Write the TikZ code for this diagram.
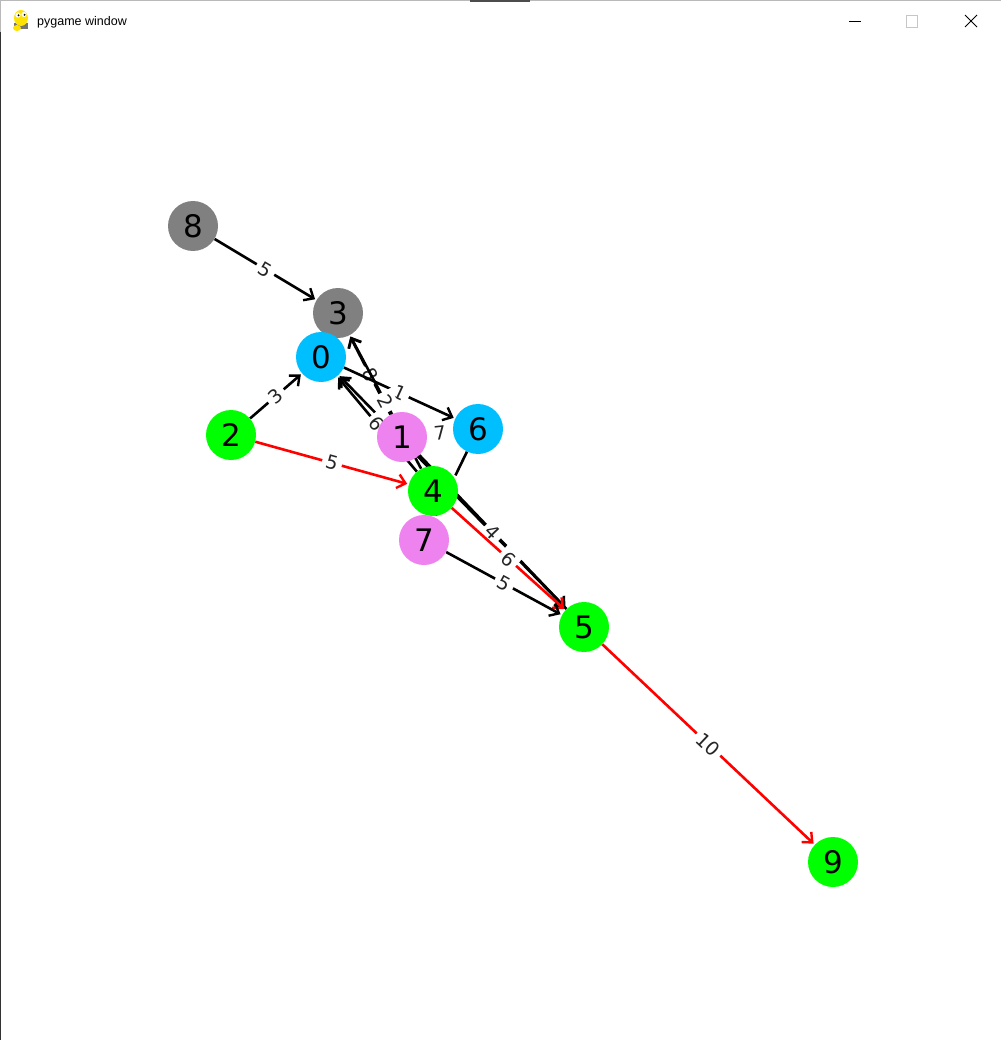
\documentclass[tikz,border=0pt]{standalone}
\usepackage{fontspec}
\setmainfont{DejaVu Sans}
\newfontfamily\titlefont{Liberation Sans}
\usetikzlibrary{arrows.meta,backgrounds}
\definecolor{ndgray}{HTML}{808080}
\definecolor{ndblue}{HTML}{00BFFF}
\definecolor{ndgreen}{HTML}{00FF00}
\definecolor{ndviolet}{HTML}{EE82EE}
\definecolor{edred}{HTML}{FF0000}
\begin{document}
\begin{tikzpicture}[x=1pt,y=-1pt,
  vert/.style={circle,minimum size=50pt,inner sep=0pt,font=\fontsize{31}{31}\selectfont},
  edge/.style={line width=2.6pt,-{Straight Barb[length=8pt,width=14pt,line width=2.4pt]},shorten >=1.5pt},
  plainedge/.style={line width=2.6pt,shorten <=4pt,shorten >=4pt},
  elab/.style={fill=white,inner sep=4pt,sloped,font=\fontsize{19}{19}\selectfont,text=black!85},
  chrome/.style={line width=0.8pt}
]
\useasboundingbox (0,0) rectangle (1001,1040);

% vertices
\node[vert,fill=ndgray]   (n8) at (193,226) {8};
\node[vert,fill=ndgray]   (n3) at (338,313) {3};
\node[vert,fill=ndblue]   (n0) at (321,357) {0};
\node[vert,fill=ndgreen]  (n2) at (231,435) {2};
\node[vert,fill=ndviolet] (n1) at (402,437) {1};
\node[vert,fill=ndblue]   (n6) at (478,429) {6};
\node[vert,fill=ndgreen]  (n4) at (433,491) {4};
\node[vert,fill=ndviolet] (n7) at (424,540) {7};
\node[vert,fill=ndgreen]  (n5) at (584,627) {5};
\node[vert,fill=ndgreen]  (n9) at (833,862) {9};

% edges and their labels, under the vertices
\begin{scope}[on background layer]
\fill[white] (0,0) rectangle (1001,1040);
\draw[edge] (n8) -- node[elab]{5} (n3);
\draw[edge] (n2) -- node[elab]{3} (n0);
\draw[edge,edred] (n2) -- node[elab]{5} (n4);
\draw[edge] (n5) -- (n0);
\draw[edge] (n4) -- node[elab]{6} (n0);
\draw[edge] (n1) -- node[elab]{8} (n3);
\draw[edge] (n0) -- node[elab]{1} (n6);
\draw[edge] (n4) -- node[elab]{2} (n3);
\draw[plainedge] (n1) -- node[elab]{7} (n6);
\draw[edge] (n6) -- node[elab]{7} (n7);
\draw[edge] (n1) -- node[elab]{4} (n5);
\draw[edge,edred] (n4) -- node[elab]{6} (n5);
\draw[edge] (n7) -- node[elab]{5} (n5);
\draw[edge,edred] (n5) -- node[elab]{10} (n9);
\end{scope}

% window chrome
\draw[gray!55,line width=1pt] (0,0.5) -- (1001,0.5);
\draw[black!70,line width=2pt] (470,1) -- (530,1);
\draw[gray!55,line width=1pt] (0.5,0) -- (0.5,32);
\draw[black!80,line width=1pt] (0.5,32) -- (0.5,1040);
\node[anchor=base west,inner sep=0pt,font=\titlefont\fontsize{12.5}{13}\selectfont] (title) at (37,26) {pygame window};
\draw[chrome] (849,21.5) -- (861,21.5);
\draw[chrome,gray!45] (906.5,15.5) rectangle (917.5,27.5);
\draw[chrome] (965,15) -- (977,27) (977,15) -- (965,27);
% pygame icon
\fill[black!55] (14,23) rectangle (28,29);
\fill[yellow!85!orange] (21,18) ellipse (7 and 8);
\fill[yellow!85!orange] (17,28) ellipse (4 and 3);
\fill[white] (18,15) circle (2.6);
\fill[white] (24,14.5) circle (2.6);
\fill[black] (18.6,15.3) circle (1.1);
\fill[black] (24.6,14.8) circle (1.1);
\end{tikzpicture}
\end{document}
